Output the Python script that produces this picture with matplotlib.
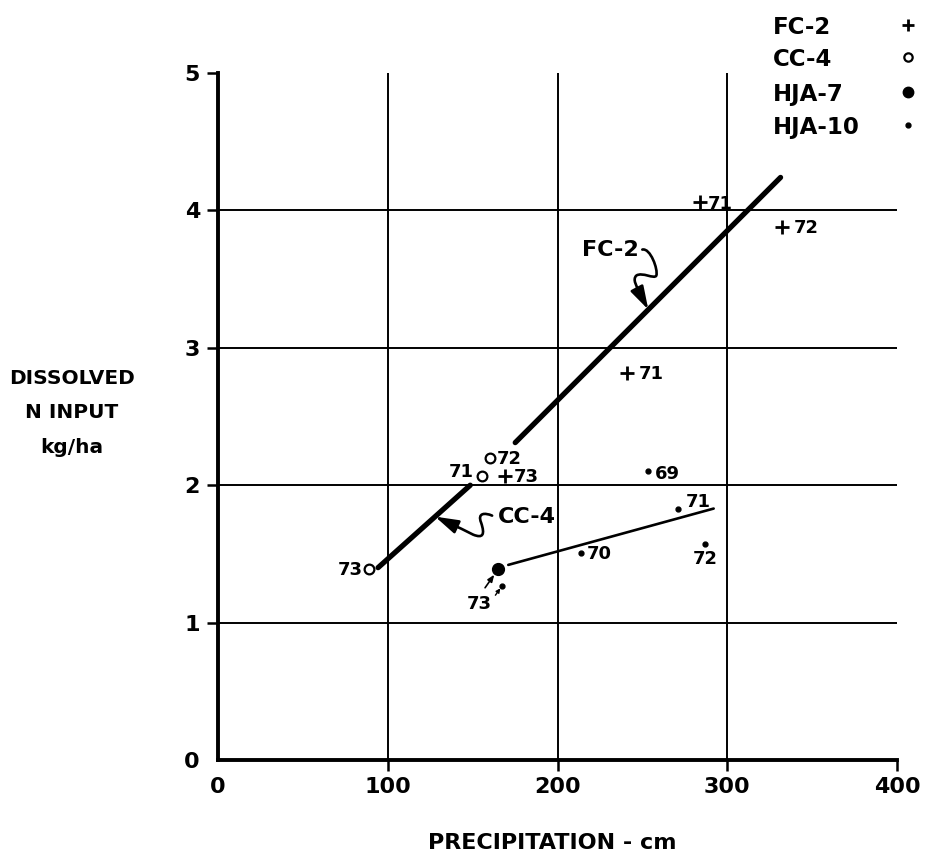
import matplotlib
matplotlib.use("Agg")
import numpy as np
import matplotlib.pyplot as plt
import matplotlib.transforms as mtransforms
from matplotlib.path import Path
from matplotlib.patches import PathPatch
from matplotlib.lines import Line2D

plt.rcParams['font.family'] = ['DejaVu Sans']
plt.rcParams['font.weight'] = 'bold'
plt.rcParams['axes.labelweight'] = 'bold'

# ---------------- data ----------------
fc2_x = [284.2, 332.0, 241.2, 169.2]
fc2_y = [4.06, 3.88, 2.82, 2.07]
fc2_lab = ['71', '72', '71', '73']

cc4_x = [155.7, 160.4, 89.0]
cc4_y = [2.07, 2.20, 1.39]
cc4_lab = ['71', '72', '73']

hja7_x = [165.1]
hja7_y = [1.39]

hja10_x = [253.5, 271.2, 214.0, 287.1, 167.5]
hja10_y = [2.10, 1.83, 1.51, 1.57, 1.27]
hja10_lab = ['69', '71', '70', '72', '73']

fc2_line_x = [175.1, 331.4]
fc2_line_y = [2.31, 4.24]
cc4_line_x = [94.3, 148.6]
cc4_line_y = [1.40, 2.00]
hja_line_x = [171.0, 292.0]
hja_line_y = [1.42, 1.83]

x_ticks = [0, 100, 200, 300, 400]
y_ticks = [0, 1, 2, 3, 4, 5]
legend_labels = ['FC-2', 'CC-4', 'HJA-7', 'HJA-10']

# ---------------- figure ----------------
W, H, DPI = 927, 858, 100
fig = plt.figure(figsize=(W / DPI, H / DPI), dpi=DPI)
ax = fig.add_axes([218 / W, (H - 760) / H, 679 / W, 687 / H])
ax.set_xlim(0, 400)
ax.set_ylim(0, 5)

for s in ['top', 'right']:
    ax.spines[s].set_visible(False)
for s in ['left', 'bottom']:
    ax.spines[s].set_linewidth(2.8)

ax.set_xticks(x_ticks)
ax.set_yticks(y_ticks)
ax.set_xticklabels([str(v) for v in x_ticks])
ax.set_yticklabels([str(v) for v in y_ticks])
ax.tick_params(direction='out', length=8, width=1.8, labelsize=16, colors='black')
ax.tick_params(axis='x', pad=4)
ax.tick_params(axis='y', pad=5)
for lab in ax.get_xticklabels() + ax.get_yticklabels():
    lab.set_fontweight('bold')
ax.xaxis.get_major_ticks()[0].tick1line.set_visible(False)
ax.yaxis.get_major_ticks()[0].tick1line.set_visible(False)

ax.grid(True, color='black', linewidth=1.4)
xg = ax.get_xgridlines()
xg[0].set_visible(False)
xg[-1].set_visible(False)
yg = ax.get_ygridlines()
yg[0].set_visible(False)
yg[-1].set_visible(False)
ax.set_axisbelow(True)

# ---------------- lines ----------------
ax.plot(fc2_line_x, fc2_line_y, color='black', lw=3.8, solid_capstyle='round', zorder=3)
ax.plot(cc4_line_x, cc4_line_y, color='black', lw=3.8, solid_capstyle='round', zorder=3)
ax.plot(hja_line_x, hja_line_y, color='black', lw=1.9, solid_capstyle='round', zorder=3)

# ---------------- markers ----------------
ax.plot(fc2_x, fc2_y, ls='none', marker='+', ms=10.5, mew=2.0, color='black', zorder=4)
ax.plot(cc4_x, cc4_y, ls='none', marker='o', ms=7, mew=1.6, mfc='white', mec='black', zorder=4)
ax.plot(hja7_x, hja7_y, ls='none', marker='o', ms=8.5, color='black', zorder=4)
ax.plot(hja10_x, hja10_y, ls='none', marker='o', ms=3.5, color='black', zorder=4)

lab_fs = 13
# FC-2 labels (right of marker)
for x, y, t, dx in zip(fc2_x, fc2_y, fc2_lab, [5, 8.5, 8, 6]):
    ax.annotate(t, (x, y), xytext=(dx, -1), textcoords='offset points',
                ha='left', va='center', fontsize=lab_fs)
# CC-4 labels
cc4_off = [(-6.5, 2.5, 'right'), (5, -1, 'left'), (-4.5, -1, 'right')]
for x, y, t, (dx, dy, ha) in zip(cc4_x, cc4_y, cc4_lab, cc4_off):
    ax.annotate(t, (x, y), xytext=(dx, dy), textcoords='offset points',
                ha=ha, va='center', fontsize=lab_fs)
# HJA-10 labels
h10_off = [(5, -1.5, 'left'), (5, 4.5, 'left'), (4.3, -1, 'left'), (0, -10.5, 'center')]
for x, y, t, (dx, dy, ha) in zip(hja10_x[:4], hja10_y[:4], hja10_lab[:4], h10_off):
    ax.annotate(t, (x, y), xytext=(dx, dy), textcoords='offset points',
                ha=ha, va='center', fontsize=lab_fs)
# '73' label for HJA-7 / HJA-10 with small arrows
ax.annotate(hja10_lab[4], (hja10_x[4], hja10_y[4]), xytext=(-16.5, -13),
            textcoords='offset points', ha='center', va='center', fontsize=lab_fs)
ax.annotate('', (hja7_x[0], hja7_y[0]), xytext=(-9.5, -13.5), textcoords='offset points',
            arrowprops=dict(arrowstyle='-|>,head_length=0.5,head_width=0.2', mutation_scale=8,
                            lw=1.2, color='black', shrinkA=0, shrinkB=5))
ax.annotate('', (hja10_x[4], hja10_y[4]), xytext=(-5, -7), textcoords='offset points',
            arrowprops=dict(arrowstyle='-|>,head_length=0.4,head_width=0.2', mutation_scale=6,
                            lw=1.0, color='black', shrinkA=0, shrinkB=2.5))

# ---------------- squiggle call-outs ----------------
PX = 72.0 / DPI  # pixels -> points


def squiggle(tip, segs, base, text, text_off):
    """segs: bezier control points (pixels, relative to tip, y up)."""
    trans = (mtransforms.Affine2D().scale(PX / 72.0) + fig.dpi_scale_trans +
             mtransforms.ScaledTranslation(tip[0], tip[1], ax.transData))
    verts = [segs[0]]
    codes = [Path.MOVETO]
    for i in range(1, len(segs)):
        verts.append(segs[i])
        codes.append(Path.CURVE4)
    patch = PathPatch(Path(verts, codes), fill=False, lw=1.9, edgecolor='black',
                      transform=trans, zorder=5, capstyle='round', joinstyle='round')
    ax.add_patch(patch)
    ax.annotate('', tip, xytext=(base[0] * PX, base[1] * PX), textcoords='offset points',
                arrowprops=dict(arrowstyle='-|>,head_length=1.0,head_width=0.3', mutation_scale=14,
                                lw=1.9, color='black', shrinkA=0, shrinkB=0), zorder=5)
    ax.annotate(text, tip, xytext=(text_off[0] * PX, text_off[1] * PX), textcoords='offset points',
                ha='center', va='center', fontsize=16)


fc_tip_x = 253.5
fc_tip = (fc_tip_x, float(np.interp(fc_tip_x, fc2_line_x, fc2_line_y)))
squiggle(fc_tip,
         [(-6, 60), (2, 62), (10, 40), (8, 34),
          (6, 30), (-6, 38), (-12, 34),
          (-16, 30), (-12, 24), (-8, 15)],
         (-8, 15), 'FC-2', (-38, 60))

cc_tip_x = 127.9
cc_tip = (cc_tip_x, float(np.interp(cc_tip_x, cc4_line_x, cc4_line_y)))
squiggle(cc_tip,
         [(57, 1), (50, 4), (42, 4), (46, -6),
          (50, -18), (48, -22), (38, -18),
          (30, -14), (22, -10), (15, -7)],
         (15, -7), 'CC-4', (92, 0))

# ---------------- axis labels ----------------
ax.set_xlabel('PRECIPITATION - cm', fontsize=16, fontweight='bold')
ax.xaxis.set_label_coords((552 - 218) / 679, (760 - 833) / 687)
ax.set_ylabel('DISSOLVED\nN INPUT\nkg/ha', fontsize=14.5, fontweight='bold', rotation=0,
              ha='center', va='center', multialignment='center', linespacing=2.05)
ax.yaxis.set_label_coords((72 - 218) / 679, (760 - 413) / 687)

# ---------------- legend (labels left, markers in a right column) ----------------
leg_markers = [
    dict(marker='+', ms=9, mew=2.0, color='black'),
    dict(marker='o', ms=6, mew=1.6, mfc='white', mec='black'),
    dict(marker='o', ms=7.5, color='black'),
    dict(marker='o', ms=3.5, color='black'),
]
leg_rows_px = [25, 57, 92, 125]
for lab, mk, ypx in zip(legend_labels, leg_markers, leg_rows_px):
    yf = 1 - ypx / H
    fig.text(773 / W, yf, lab, ha='left', va='center_baseline', fontsize=16.5, fontweight='bold')
    fig.add_artist(Line2D([908 / W], [yf], ls='none', transform=fig.transFigure, **mk))

fig.savefig('out.png', dpi=DPI)
